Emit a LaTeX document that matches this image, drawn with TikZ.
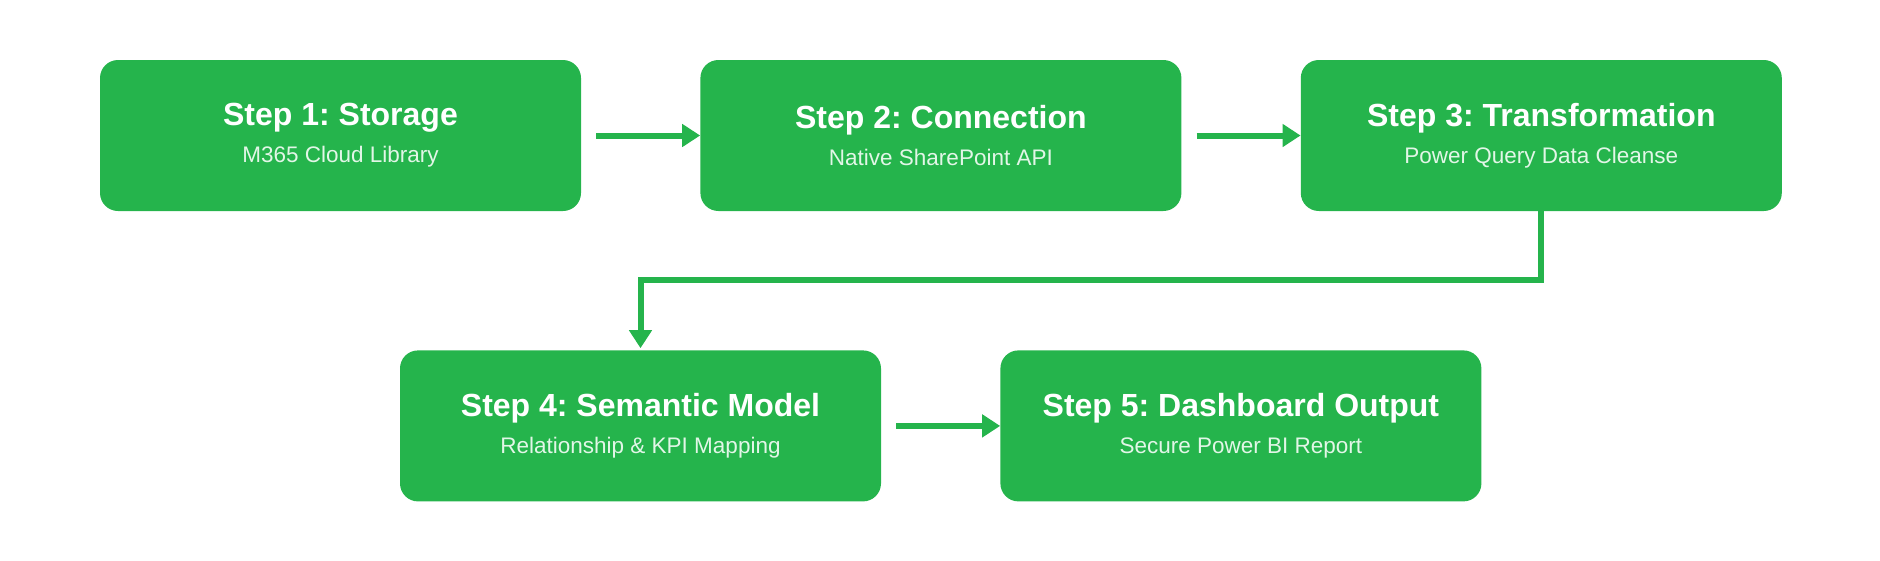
\documentclass[tikz,border=0pt]{standalone}
\usepackage{fontspec}
\setmainfont{Liberation Sans}
\usepackage{tikz}
\usetikzlibrary{positioning,arrows.meta}
\frenchspacing

\definecolor{stepgreen}{HTML}{25B44C}
\definecolor{subwhite}{RGB}{226,246,231}

\begin{document}
\begin{tikzpicture}[
			x=1pt, y=1pt,
			stepbox/.style={rectangle, rounded corners=18pt, fill=stepgreen, draw=none,
				minimum width=481pt, minimum height=151pt, align=center, text=white,
				font=\fontsize{22.5}{37}\selectfont},
			flow/.style={draw=stepgreen, line width=6pt, -{Triangle[length=18pt, width=22pt]}},
			]
			\useasboundingbox (0,0) rectangle (1880,-560);
			%Nodes
			\node[stepbox] (step1) at (340.5,-135.5)
				{{\bfseries\fontsize{32}{37}\selectfont Step 1: Storage}\\\textcolor{subwhite}{M365 Cloud Library}};
			\node[stepbox] (step2) [right=119pt of step1]
				{{\bfseries\fontsize{32}{37}\selectfont Step 2: Connection}\\\textcolor{subwhite}{Native SharePoint API}};
			\node[stepbox] (step3) [right=119pt of step2]
				{{\bfseries\fontsize{32}{37}\selectfont Step 3: Transformation}\\\textcolor{subwhite}{Power Query Data Cleanse}};
			\node[stepbox] (step4) [below=139pt of step1, xshift=300pt]
				{{\bfseries\fontsize{32}{37}\selectfont Step 4: Semantic Model}\\\textcolor{subwhite}{Relationship \& KPI Mapping}};
			\node[stepbox] (step5) [right=119pt of step4]
				{{\bfseries\fontsize{32}{37}\selectfont Step 5: Dashboard Output}\\\textcolor{subwhite}{Secure Power BI Report}};

			%Arrows
			\draw[flow] ([xshift=15pt]step1.east) -- (step2.west);
			\draw[flow] ([xshift=15pt]step2.east) -- (step3.west);
			\draw[flow] (step3.south) -- ++(0,-69) -| ([yshift=2pt]step4.north);
			\draw[flow] ([xshift=15pt]step4.east) -- (step5.west);
		\end{tikzpicture}
\end{document}
